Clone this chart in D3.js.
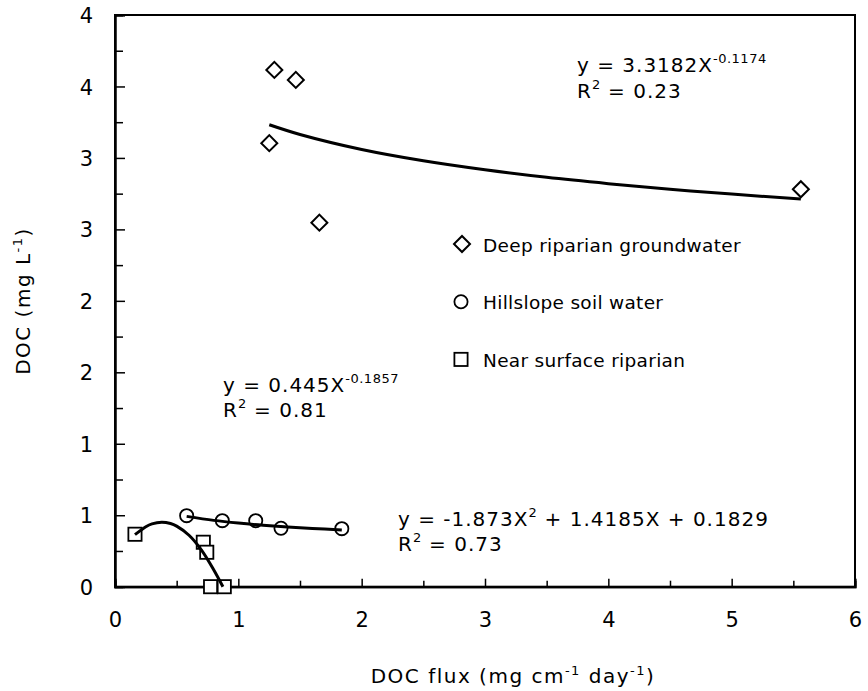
<!DOCTYPE html>
<html><head><meta charset="utf-8">
<script src="https://cdn.jsdelivr.net/npm/d3@7"></script>
<style>body{margin:0;background:#fff} svg text{font-family:"DejaVu Sans",sans-serif;fill:#000}</style>
</head><body><svg id="c" width="868" height="691"></svg>
<script>
// ---- data ----
const deepX=[1.292,1.466,1.251,1.657,5.561];
const deepY=[3.616,3.546,3.103,2.547,2.781];
const hillX=[0.581,0.870,1.141,1.346,1.839];
const hillY=[0.497,0.462,0.462,0.409,0.406];
const nearX=[0.162,0.716,0.744,0.775,0.886];
const nearY=[0.367,0.311,0.241,0,0];
const deepFitX=[1.251,1.5,2,2.5,3,3.5,4,4.5,5,5.561];
const deepFitY=[3.232,3.164,3.059,2.980,2.917,2.864,2.820,2.781,2.747,2.713];
const hillFitX=[0.581,0.8,1.0,1.2,1.4,1.6,1.839];
const hillFitY=[0.492,0.464,0.445,0.430,0.418,0.408,0.397];
const nearFitX=[0.162,0.25,0.3,0.379,0.45,0.5,0.6,0.7,0.8,0.875];
const nearFitY=[0.364,0.420,0.440,0.451,0.442,0.424,0.360,0.258,0.119,0];
const xTickValues=[0,1,2,3,4,5,6];
const xTickLabels=["0","1","2","3","4","5","6"];
const xMinorTicks=[0.5,1.5,2.5,3.5,4.5,5.5];
const yTickValues=[0,0.5,1,1.5,2,2.5,3,3.5,4];
const yTickLabels=["0","1","1","2","2","3","3","4","4"];
const yMinorTicks=[0.25,0.75,1.25,1.75,2.25,2.75,3.25,3.75];
const legendLabels=["Deep riparian groundwater","Hillslope soil water","Near surface riparian"];

const svg=d3.select("#c");
const x=d3.scaleLinear().domain([0,6]).range([115,855]);
const y=d3.scaleLinear().domain([0,4]).range([586.7,15]);

// frame
svg.append("rect").attr("x",x(0)).attr("y",y(4)).attr("width",x(6)-x(0)).attr("height",y(0)-y(4))
  .attr("fill","none").attr("stroke","#000").attr("stroke-width",2);

// axes
const xa=svg.append("g").attr("transform",`translate(0,${y(0)})`)
  .call(d3.axisBottom(x).tickValues(xTickValues).tickSize(-8).tickPadding(40).tickFormat((d,i)=>xTickLabels[i]));
const xm=svg.append("g").attr("transform",`translate(0,${y(0)})`)
  .call(d3.axisBottom(x).tickValues(xMinorTicks).tickSize(-6).tickFormat(""));
const ya=svg.append("g").attr("transform",`translate(${x(0)},0)`)
  .call(d3.axisLeft(y).tickValues(yTickValues).tickSize(-10).tickPadding(22).tickFormat((d,i)=>yTickLabels[i]));
const ym=svg.append("g").attr("transform",`translate(${x(0)},0)`)
  .call(d3.axisLeft(y).tickValues(yMinorTicks).tickSize(-8).tickFormat(""));
[xa,xm,ya,ym].forEach(g=>{g.select(".domain").attr("stroke","#000").attr("stroke-width",2);
  g.selectAll(".tick line").attr("stroke","#000").attr("stroke-width",1.5);
  g.selectAll(".tick text").attr("font-size",21).attr("font-family","DejaVu Sans").attr("fill","#000");});
xm.selectAll(".tick text").remove();
ym.selectAll(".tick text").remove();
xa.selectAll(".tick text").attr("dy","0");
ya.selectAll(".tick text").attr("dy","0.36em");

// markers
const deep=deepX.map((d,i)=>[d,deepY[i]]);
const hill=hillX.map((d,i)=>[d,hillY[i]]);
const near=nearX.map((d,i)=>[d,nearY[i]]);
const diamond=d3.symbol(d3.symbolSquare,128);
function drawDiamond(g,cx,cy){g.append("path").attr("d",diamond()).attr("transform",`translate(${cx},${cy}) rotate(45)`)
  .attr("fill","#fff").attr("stroke","#000").attr("stroke-width",2);}
function drawCircle(g,cx,cy){g.append("circle").attr("cx",cx).attr("cy",cy).attr("r",6.6)
  .attr("fill","#fff").attr("stroke","#000").attr("stroke-width",1.8);}
function drawSquare(g,cx,cy){g.append("rect").attr("x",cx-6.6).attr("y",cy-6.6).attr("width",13.2).attr("height",13.2)
  .attr("fill","#fff").attr("stroke","#000").attr("stroke-width",1.8);}
const mk=svg.append("g");
deep.forEach(p=>drawDiamond(mk,x(p[0]),y(p[1])));
hill.forEach(p=>drawCircle(mk,x(p[0]),y(p[1])));
near.forEach(p=>drawSquare(mk,x(p[0]),y(p[1])));

// trend lines
const ln=d3.line().x(d=>x(d[0])).y(d=>y(d[1])).curve(d3.curveCatmullRom);
[[deepFitX,deepFitY],[hillFitX,hillFitY],[nearFitX,nearFitY]].forEach(([xs,ys])=>{
  svg.append("path").datum(xs.map((d,i)=>[d,ys[i]])).attr("d",ln)
    .attr("fill","none").attr("stroke","#000").attr("stroke-width",3).attr("stroke-linecap","butt");});

// legend
const lg=svg.append("g");
const legY=[244,301.7,359.4];
drawDiamond(lg,462,legY[0]);drawCircle(lg,461,legY[1]);drawSquare(lg,461,legY[2]);
legendLabels.forEach((t,i)=>lg.append("text").attr("x",483).attr("y",legY[i]+7.5)
  .attr("font-size",18.5).attr("letter-spacing",0.3).text(t));

// equations: parts are plain strings or ["sup", text]
function eq(x0,y0,parts){const t=svg.append("text").attr("x",x0).attr("y",y0).attr("font-size",20).attr("letter-spacing",1);
  let shift=0;
  parts.forEach(p=>{
    if(Array.isArray(p)){t.append("tspan").attr("dy",-9).attr("font-size",13).attr("letter-spacing",0.5).text(p[1]);shift=9;}
    else {t.append("tspan").attr("dy",shift).text(p);shift=0;}});}
eq(577,72.3,["y = 3.3182X",["sup","-0.1174"]]);
eq(577,98.3,["R",["sup","2"]," = 0.23"]);
eq(223,391.7,["y = 0.445X",["sup","-0.1857"]]);
eq(223,416.7,["R",["sup","2"]," = 0.81"]);
eq(398,525.7,["y = -1.873X",["sup","2"]," + 1.4185X + 0.1829"]);
eq(398,550.7,["R",["sup","2"]," = 0.73"]);

// axis titles
const xt=svg.append("text").attr("x",513).attr("y",683).attr("text-anchor","middle").attr("font-size",20).attr("letter-spacing",1.5);
xt.append("tspan").text("DOC flux (mg cm");xt.append("tspan").attr("dy",-8).attr("font-size",13).text("-1");
xt.append("tspan").attr("dy",8).text(" day");xt.append("tspan").attr("dy",-8).attr("font-size",13).text("-1");
xt.append("tspan").attr("dy",8).text(")");
const yt=svg.append("text").attr("transform","translate(30,301) rotate(-90)").attr("text-anchor","middle").attr("font-size",20).attr("letter-spacing",1.5);
yt.append("tspan").text("DOC (mg L");yt.append("tspan").attr("dy",-8).attr("font-size",13).text("-1");
yt.append("tspan").attr("dy",8).text(")");
</script></body></html>
